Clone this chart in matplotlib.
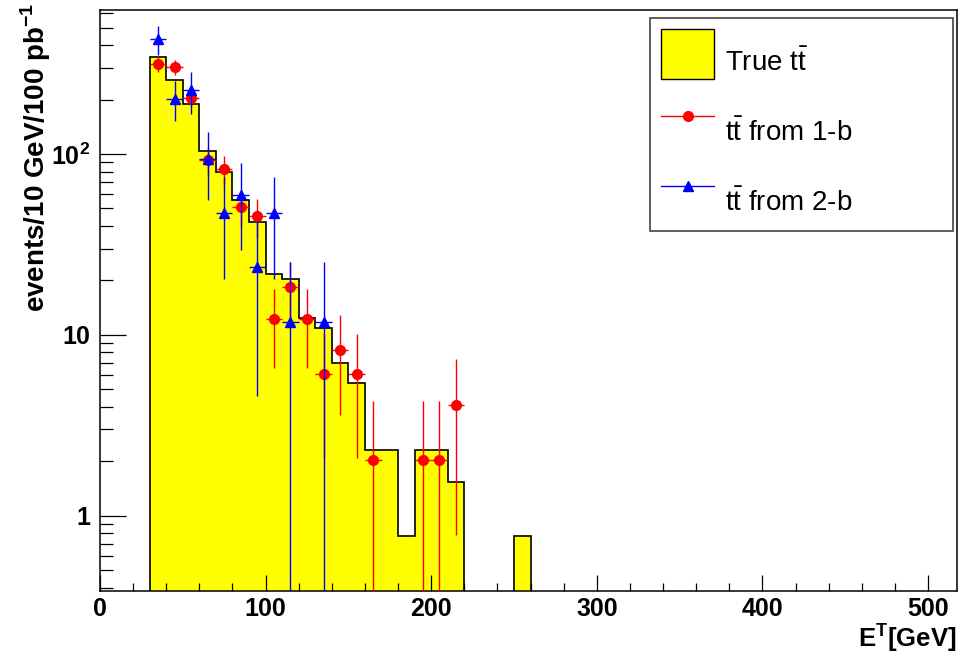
import numpy as np
import matplotlib
matplotlib.use('Agg')
import matplotlib.pyplot as plt
import matplotlib.transforms as mtransforms
from matplotlib.patches import Patch
from matplotlib.lines import Line2D
from matplotlib.ticker import FixedLocator, LogLocator, NullFormatter

plt.rcParams['font.family'] = 'Liberation Sans'
plt.rcParams['mathtext.fontset'] = 'custom'
plt.rcParams['mathtext.rm'] = 'Liberation Sans'
plt.rcParams['mathtext.bf'] = 'Liberation Sans:bold'

# true ttbar E_T spectrum, 10 GeV bins
bin_edges = np.arange(30, 270, 10)
true_tt = [344, 257, 190, 104, 80, 56, 42.3, 21.6, 20.3, 12.4, 10.9, 7.0, 5.4,
           2.31, 2.31, 0.77, 2.31, 2.31, 1.54, 0, 0, 0, 0.77]

# reconstructed with one b-tag
x_1b = [35, 45, 55, 65, 75, 85, 95, 105, 115, 125, 135, 145, 155, 165, 195, 205, 215]
y_1b = [313, 303, 204, 93, 82.6, 51.2, 45.4, 12.3, 18.4, 12.3, 6.1, 8.2, 6.1,
        2.03, 2.03, 2.03, 4.08]
err_1b = [29, 28, 23, 16, 15, 11.6, 11, 5.7, 7, 5.7, 4, 4.6, 4, 2.3, 2.3, 2.3, 3.3]

# reconstructed with two b-tags
x_2b = [35, 45, 55, 65, 75, 85, 95, 105, 115, 135]
y_2b = [432, 202, 225, 94, 47.4, 59.4, 23.6, 47.4, 11.8, 11.8]
err_2b = [80, 50, 58, 38, 27, 30, 19, 27, 13.5, 13.5]

fig = plt.figure(figsize=(9.6, 6.57), dpi=100)
W, H = 960, 657
ax = fig.add_axes([100 / W, (H - 591) / H, 857 / W, 581 / H])
ax.set_yscale('log')

ax.bar(bin_edges[:-1], true_tt, width=10, align='edge', color='#ffff00', linewidth=0, zorder=1)
ax.stairs(true_tt, bin_edges, baseline=1e-4, color='black', linewidth=1.2, zorder=2)


def asym(y, e):
    y = np.array(y, dtype=float)
    e = np.array(e, dtype=float)
    lo = np.where(e >= y, y - 1e-4, e)
    return [lo, e]


ax.errorbar(x_1b, y_1b, xerr=5, yerr=asym(y_1b, err_1b), fmt='o', color='red',
            ms=7, elinewidth=1.0, capsize=0, zorder=3)
ax.errorbar(x_2b, y_2b, xerr=5, yerr=asym(y_2b, err_2b), fmt='^', color='blue',
            ms=7, elinewidth=1.0, capsize=0, zorder=4)

ax.set_xlim(0, 517.5)
ax.set_ylim(0.384, 625)

# ticks inside, left and bottom only
ax.xaxis.set_major_locator(FixedLocator([0, 100, 200, 300, 400, 500]))
ax.xaxis.set_minor_locator(FixedLocator(np.arange(0, 520, 20)))
ax.yaxis.set_major_locator(FixedLocator([1, 10, 100]))
ax.yaxis.set_minor_locator(LogLocator(base=10, subs=np.arange(2, 10)))
ax.yaxis.set_minor_formatter(NullFormatter())
ax.set_xticklabels(['0', '100', '200', '300', '400', '500'], fontsize=18, fontweight='bold')
ax.set_yticklabels(['1', '10', r'10$^{\mathbf{2}}$'], fontsize=18, fontweight='bold')
ax.tick_params(axis='y', which='major', direction='in', length=18.5, width=0.9, pad=7)
ax.tick_params(axis='y', which='minor', direction='in', length=9.5, width=0.9)
ax.tick_params(axis='x', which='major', direction='in', length=11.5, width=0.9, pad=4)
ax.tick_params(axis='x', which='minor', direction='in', length=6, width=0.9)
for s in ax.spines.values():
    s.set_linewidth(1.1)

fig.text(36 / W, 1 - 3 / H, r'events/10 GeV/100 pb$^{\mathbf{-1}}$', rotation=90,
         ha='center', va='top', fontsize=20, fontweight='bold')
fig.text(957 / W, 3 / H, r'E$^{\mathbf{T}}$[GeV]', ha='right', va='bottom',
         fontsize=18.5, fontweight='bold')

handles = [
    Patch(facecolor='#ffff00', edgecolor='black', linewidth=1.0),
    Line2D([], [], color='red', marker='o', ms=7, lw=1.0),
    Line2D([], [], color='blue', marker='^', ms=7, lw=1.0),
]
labels = [r'True $\mathrm{t\bar{t}}$', r'$\mathrm{t\bar{t}}$ from 1-b', r'$\mathrm{t\bar{t}}$ from 2-b']
leg = fig.legend(handles, labels, loc='upper left',
                 bbox_to_anchor=(650 / W, 1 - 230 / H, 303 / W, 212 / H),
                 bbox_transform=fig.transFigure, mode='expand', fontsize=20, frameon=True,
                 fancybox=False, shadow=False, borderpad=0.4, borderaxespad=0,
                 handlelength=1.9, handleheight=2.4, handletextpad=0.4, labelspacing=0.72)
leg.get_frame().set_edgecolor('black')
leg.get_frame().set_linewidth(1.1)
# labels sit a little below their symbols
shift = mtransforms.ScaledTranslation(0, -0.08, fig.dpi_scale_trans)
for t in leg.get_texts():
    t.set_transform(t.get_transform() + shift)

fig.savefig('out.png', dpi=100)
